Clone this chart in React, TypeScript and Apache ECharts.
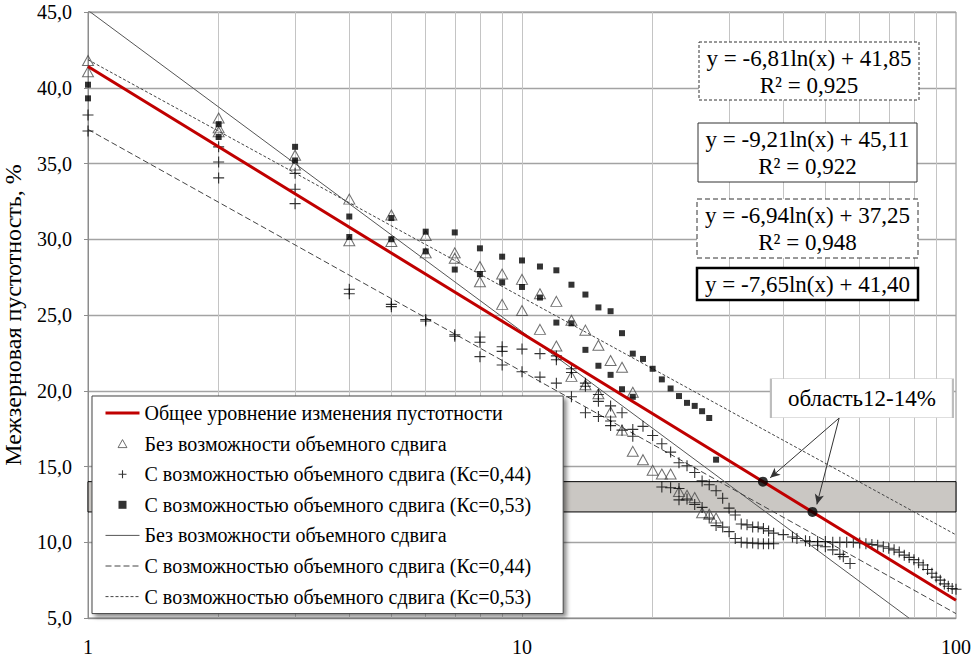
import React, { useEffect, useRef } from 'react';
import * as echarts from 'echarts';

const FONT = 'Liberation Serif';

// ---------- names ----------
const NAME_TOTAL = 'Общее уровнение изменения пустотности';
const NAME_NO = 'Без возможности объемного сдвига';
const NAME_044 = 'С возможностью объемного сдвига (Кс=0,44)';
const NAME_053 = 'С возможностью объемного сдвига (Кс=0,53)';
// trend-line entries repeat the names; a trailing space keeps them distinct for the legend
const NAME_NO_T = NAME_NO + ' ';
const NAME_044_T = NAME_044 + ' ';
const NAME_053_T = NAME_053 + ' ';

// ---------- axes ----------
const xMin = 1;
const xMax = 100;
const yMin = 5;
const yMax = 45;
const yStep = 5;
const xMinorGrid = [2, 3, 4, 5, 6, 7, 8, 9, 20, 30, 40, 50, 60, 70, 80, 90];

// ---------- measured points ----------
const trianglePoints: [number, number][] = [
  [1, 41.8], [1, 41.05],
  [2, 38.0], [2, 37.35], [2, 37.1],
  [3, 35.55], [3, 34.9],
  [4, 32.65], [4, 29.9],
  [5, 31.6], [5, 29.85],
  [6, 30.25], [6, 29.1],
  [7, 29.1], [7, 28.75],
  [8, 28.2], [8, 27.2],
  [9, 27.7], [9, 25.7],
  [10, 27.35], [10, 25.3],
  [11, 26.4], [11, 24.05],
  [12, 25.9], [12, 22.95],
  [13, 24.65], [13, 20.95],
  [14, 24.0], [14, 20.4],
  [15, 23.0], [15, 19.8],
  [16, 22.0], [16, 18.6],
  [17, 21.55], [17, 17.4],
  [18, 19.9], [18, 16.0],
  [19, 15.45], [20, 14.75], [21, 14.5], [22, 14.5],
  [23, 13.35], [24, 13.1], [25, 12.95],
  [26, 11.95], [27, 11.85], [28, 11.6],
];

const plus044Points: [number, number][] = [
  [1, 38.2], [1, 37.15],
  [2, 36.1], [2, 35.1], [2, 34.05],
  [3, 34.35], [3, 33.3], [3, 32.35],
  [4, 26.7], [4, 26.4],
  [5, 25.7], [5, 25.55],
  [6, 24.7], [6, 24.6],
  [7, 23.7], [7, 23.6],
  [8, 23.55], [8, 23.2], [8, 22.25],
  [9, 22.9], [9, 22.6], [9, 21.7],
  [10, 22.75], [10, 21.25],
  [11, 22.45], [11, 20.9],
  [12, 22.3], [12, 22.05], [12, 20.5],
  [13, 21.45], [13, 21.2], [13, 19.6],
  [14, 20.5], [14, 20.3], [14, 18.55],
  [15, 19.75], [15, 19.3], [15, 18.3],
  [16, 19.0], [16, 18.0], [16, 17.7],
  [17, 18.55], [17, 17.4],
  [18, 17.45], [18, 17.0],
  [19, 17.65], [20, 17.05],
  [21, 16.5], [21, 13.65],
  [22, 15.95], [22, 13.6],
  [23, 15.25], [23, 13.55], [23, 12.8],
  [24, 15.05], [24, 12.85],
  [25, 14.6], [25, 12.5],
  [26, 14.05], [26, 12.3],
  [27, 13.8], [27, 11.6],
  [28, 13.4], [28, 11.1],
  [29, 12.9], [29, 11.0],
  [30, 12.25], [30, 10.7],
  [31, 11.8], [31, 10.25],
  [32, 11.2], [32, 10.0],
  [33, 11.15], [33, 9.95],
  [34, 11.0], [34, 9.95],
  [35, 11.0], [35, 9.9],
  [36, 10.9], [36, 9.9],
  [37, 10.75], [37, 9.9],
  [38, 10.6], [38, 9.9],
  [40, 10.5], [42, 10.35], [43, 10.25], [45, 10.1], [46, 10.05],
  [48, 10.05], [50, 10.05], [52, 10.0], [54, 10.0], [56, 10.0],
  [58, 10.0], [60, 9.95], [62, 9.9], [64, 9.85], [66, 9.8],
  [68, 9.7], [70, 9.6], [72, 9.5], [74, 9.35], [76, 9.15],
  [78, 9.0], [80, 8.85], [82, 8.65], [84, 8.5], [86, 8.2],
  [88, 7.95], [90, 7.7], [92, 7.5], [94, 7.25], [96, 7.1],
  [98, 6.95], [100, 6.9],
  [48, 9.8], [50, 9.7], [52, 9.5], [54, 9.2], [55, 9.05], [57, 8.6],
];

const square053Points: [number, number][] = [
  [1, 40.2], [1, 39.3],
  [2, 37.6], [2, 36.75],
  [3, 36.1], [3, 35.2],
  [4, 31.5], [4, 30.15],
  [5, 31.4], [5, 30.0],
  [6, 30.5], [6, 29.2],
  [7, 30.45], [7, 28.0],
  [8, 29.4], [8, 27.7],
  [9, 28.85], [9, 27.15],
  [10, 28.6], [10, 26.85],
  [11, 28.2], [11, 26.15],
  [12, 27.95], [12, 24.5],
  [13, 27.0], [13, 24.45],
  [14, 26.35], [14, 22.7],
  [15, 25.5], [15, 21.65],
  [16, 25.25], [16, 21.05],
  [17, 23.8], [17, 20.1],
  [18, 22.45], [18, 19.6],
  [19, 22.1], [20, 21.45], [21, 20.75], [22, 20.15],
  [23, 19.65], [24, 19.2], [25, 19.0], [26, 18.65],
  [27, 18.2], [28, 15.45],
];

// ---------- trend lines (end points of y = a·ln(x) + b, straight on a log axis) ----------
const trendTotal: [number, number][] = [[1, 41.40], [100, 6.17]];
const trendNo: [number, number][] = [[1, 45.11], [77.9, 5.0]];
const trend044: [number, number][] = [[1, 37.25], [100, 5.29]];
const trend053: [number, number][] = [[1, 41.85], [100, 10.49]];

// ---------- band & callout ----------
const bandRange = [12, 14];
const bandDots: [number, number][] = [[35.9, 14], [46.7, 12]];
const calloutText = 'область12-14%';
const calloutAnchor = [60.7, 19.5];
const arrowStart = [53.8, 18.2];
const arrowEnds = [[37.3, 14.25], [47.8, 12.5]];

// ---------- equation boxes ----------
const equations = [
  { lines: ['y = -6,81ln(x) + 41,85', 'R² = 0,925'], border: 'dotted' },
  { lines: ['y = -9,21ln(x) + 45,11', 'R² = 0,922'], border: 'solid' },
  { lines: ['y = -6,94ln(x) + 37,25', 'R² = 0,948'], border: 'dashed' },
  { lines: ['y = -7,65ln(x) + 41,40'], border: 'bold' },
];

const PLUS = 'path://M5 0 L5 10 M0 5 L10 5';
const TRI_ICON = 'path://M5 0 L10 9 L0 9 Z';
const SQ_ICON = 'path://M0 0 L6 0 L6 6 L0 6 Z';

function buildEquationGraphics() {
  const boxes = [
    { x: 699, y: 42, w: 220, h: 58 },
    { x: 698, y: 123, w: 219, h: 59 },
    { x: 697, y: 199, w: 221, h: 59 },
    { x: 697, y: 268, w: 221, h: 32 },
  ];
  const els: any[] = [];
  equations.forEach((eq, i) => {
    const b = boxes[i];
    const dash = eq.border === 'dotted' ? [3, 2] : eq.border === 'dashed' ? [5, 3] : null;
    els.push({
      type: 'rect',
      z: 20,
      shape: { x: b.x, y: b.y, width: b.w, height: b.h },
      style: {
        fill: '#fff',
        stroke: eq.border === 'bold' ? '#000' : '#333',
        lineWidth: eq.border === 'bold' ? 2.5 : 1,
        lineDash: dash,
      },
    });
    const cx = b.x + b.w / 2;
    const n = eq.lines.length;
    eq.lines.forEach((t, j) => {
      const cy = n === 1 ? b.y + b.h / 2 : b.y + 16 + j * 27;
      els.push({
        type: 'text',
        z: 21,
        x: cx,
        y: cy,
        style: {
          text: t,
          fontSize: 23,
          fontFamily: FONT,
          fill: '#000',
          textAlign: 'center',
          textVerticalAlign: 'middle',
        },
      });
    });
  });
  return els;
}

export default function App() {
  const ref = useRef<HTMLDivElement>(null);

  useEffect(() => {
    if (!ref.current) return;
    const chart = echarts.init(ref.current, null, { renderer: 'svg' });

    const triStyle = { color: 'rgba(255,255,255,0)', borderColor: '#4a4a4a', borderWidth: 1 };
    const plusStyle = { color: 'rgba(0,0,0,0)', borderColor: '#000', borderWidth: 1.1 };
    const sqStyle = { color: '#000', borderWidth: 0 };
    const hiddenSymbol = { color: 'rgba(0,0,0,0)', borderColor: 'rgba(0,0,0,0)', borderWidth: 0 };

    const option: any = {
      animation: false,
      backgroundColor: '#fff',
      textStyle: { fontFamily: FONT },
      grid: {
        left: 88,
        right: 18,
        top: 12,
        bottom: 49,
        containLabel: false,
        outerBoundsMode: 'none',
        show: true,
        borderColor: '#8c8c8c',
        borderWidth: 1,
        backgroundColor: 'transparent',
      },
      xAxis: {
        type: 'log',
        logBase: 10,
        min: xMin,
        max: xMax,
        axisLine: { show: true, lineStyle: { color: '#8c8c8c', width: 1 } },
        axisTick: { show: false },
        axisLabel: { fontSize: 20, fontFamily: FONT, color: '#000', margin: 19 },
        splitLine: { show: true, lineStyle: { color: '#c4c4c4', width: 1 } },
        minorTick: { show: false },
        minorSplitLine: { show: false },
      },
      yAxis: {
        type: 'value',
        min: yMin,
        max: yMax,
        interval: yStep,
        name: 'Межзерновая пустотность, %',
        nameLocation: 'middle',
        nameGap: 63,
        nameTextStyle: { fontSize: 24, fontFamily: FONT, color: '#000' },
        axisLine: { show: true, lineStyle: { color: '#8c8c8c', width: 1 } },
        axisTick: { show: true, length: 4, lineStyle: { color: '#8c8c8c' } },
        axisLabel: {
          fontSize: 20,
          fontFamily: FONT,
          color: '#000',
          margin: 16,
          formatter: (v: number) => v.toFixed(1).replace('.', ','),
        },
        splitLine: { show: true, lineStyle: { color: '#a3a3a3', width: 1.3 } },
      },
      legend: {
        orient: 'vertical',
        left: 92,
        top: 396,
        padding: [7, 27, 7, 12],
        itemWidth: 34,
        itemHeight: 8,
        itemGap: 10.6,
        symbolKeepAspect: true,
        backgroundColor: '#fff',
        borderColor: '#444',
        borderWidth: 1,
        shadowColor: 'rgba(0,0,0,0.45)',
        shadowBlur: 4,
        shadowOffsetX: 3,
        shadowOffsetY: 3,
        selectedMode: false,
        textStyle: { fontFamily: FONT, fontSize: 20, color: '#000', lineHeight: 20 },
        data: [
          { name: NAME_TOTAL, itemStyle: hiddenSymbol, lineStyle: { color: '#c00000', width: 3, type: 'solid' } },
          { name: NAME_NO, icon: TRI_ICON, itemStyle: triStyle },
          { name: NAME_044, icon: PLUS, itemStyle: plusStyle },
          { name: NAME_053, icon: SQ_ICON, itemStyle: sqStyle },
          { name: NAME_NO_T, itemStyle: hiddenSymbol, lineStyle: { color: '#555', width: 1, type: 'solid' } },
          { name: NAME_044_T, itemStyle: hiddenSymbol, lineStyle: { color: '#444', width: 1, type: [6, 3] } },
          { name: NAME_053_T, itemStyle: hiddenSymbol, lineStyle: { color: '#444', width: 1, type: [3, 2] } },
        ],
      },
      graphic: buildEquationGraphics(),
      series: [
        {
          // vertical minor grid lines of the log axis
          name: 'grid-minor',
          type: 'line',
          data: [],
          silent: true,
          markLine: {
            silent: true,
            z: 0,
            symbol: ['none', 'none'],
            label: { show: false },
            lineStyle: { color: '#c4c4c4', width: 1, type: 'solid' },
            data: xMinorGrid.map((v) => ({ xAxis: v })),
          },
        },
        {
          name: 'band',
          type: 'line',
          data: [],
          silent: true,
          markArea: {
            silent: true,
            z: 1,
            itemStyle: { color: '#cac7c3', borderColor: '#000', borderWidth: 1 },
            data: [[{ yAxis: bandRange[0] }, { yAxis: bandRange[1] }]],
          },
        },
        { name: NAME_NO_T, type: 'line', z: 3, data: trendNo, symbol: 'none', lineStyle: { color: '#555', width: 1, type: 'solid' } },
        { name: NAME_044_T, type: 'line', z: 3, data: trend044, symbol: 'none', lineStyle: { color: '#444', width: 1, type: [6, 3] } },
        { name: NAME_053_T, type: 'line', z: 3, data: trend053, symbol: 'none', lineStyle: { color: '#444', width: 1, type: [3, 2] } },
        { name: NAME_NO, type: 'scatter', z: 4, data: trianglePoints, symbol: 'triangle', symbolSize: [11, 10], itemStyle: triStyle },
        { name: NAME_044, type: 'scatter', z: 4, data: plus044Points, symbol: PLUS, symbolSize: 11, itemStyle: plusStyle },
        { name: NAME_053, type: 'scatter', z: 4, data: square053Points, symbol: 'rect', symbolSize: 6, itemStyle: sqStyle },
        {
          name: NAME_TOTAL,
          type: 'line',
          z: 5,
          data: trendTotal,
          symbol: 'none',
          lineStyle: { color: '#c00000', width: 3, type: 'solid' },
          markPoint: {
            z: 6,
            silent: true,
            data: [
              {
                coord: calloutAnchor,
                symbol: 'rect',
                symbolSize: [182, 39],
                itemStyle: { color: '#fff', borderColor: '#bdbdbd', borderWidth: 1 },
                label: {
                  show: true,
                  position: 'inside',
                  formatter: calloutText,
                  fontSize: 23,
                  fontFamily: FONT,
                  color: '#000',
                },
              },
            ],
          },
        },
        {
          name: 'band-points',
          type: 'scatter',
          z: 7,
          data: bandDots,
          symbol: 'circle',
          symbolSize: 10,
          itemStyle: { color: '#000' },
          markLine: {
            silent: true,
            z: 6,
            symbol: ['none', 'arrow'],
            symbolSize: [7, 10],
            label: { show: false },
            lineStyle: { color: '#333', width: 1, type: 'solid' },
            data: arrowEnds.map((e) => [{ coord: arrowStart }, { coord: e }]),
          },
        },
      ],
    };

    chart.setOption(option);
    return () => chart.dispose();
  }, []);

  return (
    <div
      ref={ref}
      style={{ position: 'absolute', left: 0, top: 0, width: 974, height: 667 }}
    />
  );
}
